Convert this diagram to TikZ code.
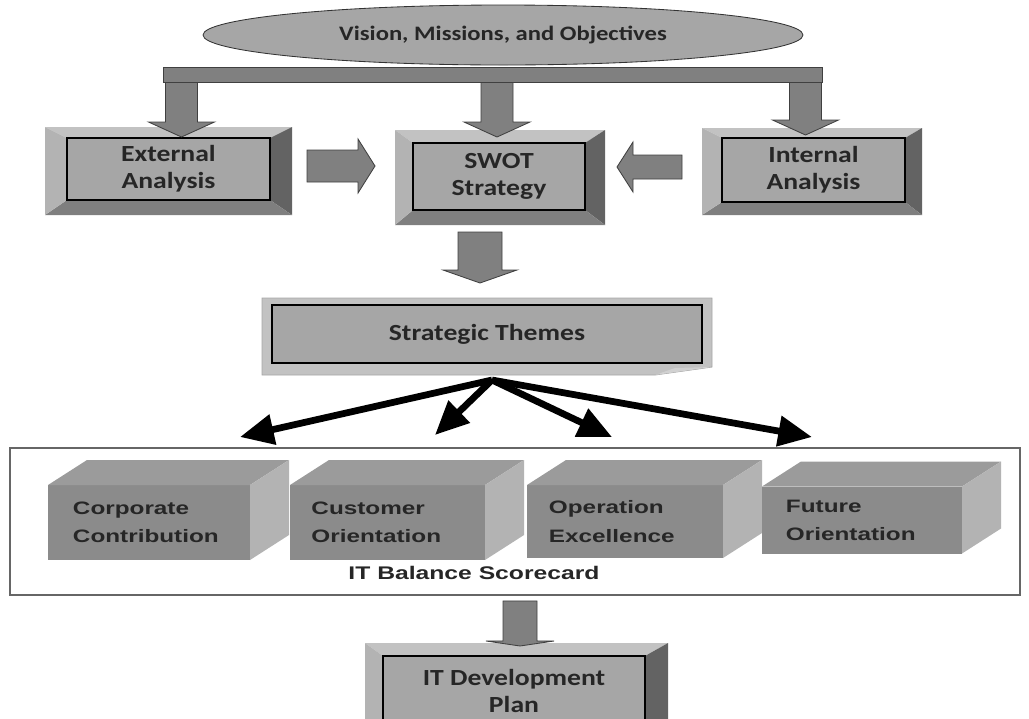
\documentclass[tikz,border=0pt]{standalone}
\usepackage{fontspec}
\setmainfont[FakeStretch=1.2]{Carlito}
\newfontfamily\arialfont[FakeStretch=1.35]{Liberation Sans}
\usetikzlibrary{calc,shapes.geometric,arrows.meta,backgrounds}

\newcommand\unitpx{0.025cm}
\definecolor{boxgray}{HTML}{A6A6A6}
\definecolor{bevtopc}{HTML}{C2C2C2}
\definecolor{bevleftc}{HTML}{B3B3B3}
\definecolor{bevrightc}{HTML}{636363}
\definecolor{bevbottomc}{HTML}{7F7F7F}
\definecolor{arrowgray}{HTML}{808080}
\definecolor{cubefrontc}{HTML}{8B8B8B}
\definecolor{cubetopc}{HTML}{9B9B9B}
\definecolor{cubesidec}{HTML}{B3B3B3}

\tikzset{
  innerbox/.style={draw=black, line width=0.8pt, fill=boxgray, align=center, text=black!85,
    font=\bfseries\fontsize{16.4pt}{19pt}\selectfont, inner sep=0pt, outer sep=0pt},
  vision/.style={ellipse, draw=black!80, line width=0.6pt, fill=boxgray, inner sep=0pt,
    font=\bfseries\fontsize{14.6pt}{17pt}\selectfont, text=black!85},
  barnode/.style={draw=black!75, line width=0.6pt, fill=arrowgray, inner sep=0pt},
  blockarrow/.style={fill=arrowgray, draw=black!75, line width=0.6pt, line join=miter},
  bevtop/.style={fill=bevtopc}, bevleft/.style={fill=bevleftc},
  bevright/.style={fill=bevrightc}, bevbottom/.style={fill=bevbottomc},
  forkarrow/.style={line width=4.8pt, -{Triangle[length=24pt, width=21pt]}},
  cardframe/.style={draw=black!60, line width=1.4pt, inner sep=0pt},
  cubefront/.style={fill=cubefrontc, text=black!85, align=left, inner sep=0pt, outer sep=0pt,
    text width=3.8cm, font=\arialfont\bfseries\fontsize{12.8pt}{20pt}\selectfont},
  cubetop/.style={fill=cubetopc}, cubeside/.style={fill=cubesidec},
}

% bevelled frame round a box node: name, left, top, right, bottom (px)
\newcommand\bevel[5]{%
  \path ($(#1.north west)+(-#2,-#3)$) coordinate (o1)
        ($(#1.north east)+(#4,-#3)$) coordinate (o2)
        ($(#1.south east)+(#4,#5)$) coordinate (o3)
        ($(#1.south west)+(-#2,#5)$) coordinate (o4);
  \fill[bevtop] (o1) -- (o2) -- (#1.north east) -- (#1.north west) -- cycle;
  \fill[bevright] (o2) -- (o3) -- (#1.south east) -- (#1.north east) -- cycle;
  \fill[bevbottom] (o3) -- (o4) -- (#1.south west) -- (#1.south east) -- cycle;
  \fill[bevleft] (o4) -- (o1) -- (#1.north west) -- (#1.south west) -- cycle;
  \draw[line width=0.8pt] (#1.north west) rectangle (#1.south east);
}

% block arrow: from, to, shaft half width, head half width, head length (px)
\newcommand\blockarr[5]{%
  \path ($(#2)!#5*\unitpx!(#1)$) coordinate (hb);
  \draw[blockarrow] ($(#1)!#3*\unitpx!90:(#2)$) -- ($(hb)!#3*\unitpx!-90:(#1)$)
    -- ($(hb)!#4*\unitpx!-90:(#1)$) -- (#2) -- ($(hb)!#4*\unitpx!90:(#1)$)
    -- ($(hb)!#3*\unitpx!90:(#1)$) -- ($(#1)!#3*\unitpx!-90:(#2)$) -- cycle;
}

% top and side faces of a cuboid: name, depth
\newcommand\cubefaces[2]{%
  \fill[cubetop] (#1.north west) -- ++(#2,-25) -- ($(#1.north east)+(#2,-25)$) -- (#1.north east) -- cycle;
  \fill[cubeside] (#1.north east) -- ++(#2,-25) -- ($(#1.south east)+(#2,-25)$) -- (#1.south east) -- cycle;
}

\begin{document}
\begin{tikzpicture}[x=0.025cm, y=-0.025cm]
\useasboundingbox (0,0) rectangle (1029,718);
\clip (0,0) rectangle (1029,718);

% Top: vision and the distribution bar
\node[vision, minimum width=600*\unitpx, minimum height=60*\unitpx] (vision) at (503,35) {Vision, Missions, and Objectives};
\node[barnode, minimum width=659*\unitpx, minimum height=15*\unitpx] (bar) at (492.5,74.5) {};

% Analysis boxes and SWOT
\node[innerbox, minimum width=203*\unitpx, minimum height=62*\unitpx] (ext) at (168.5,169) {External\\Analysis};
\node[innerbox, minimum width=172*\unitpx, minimum height=67*\unitpx] (swot) at (499,176.5) {SWOT\\Strategy};
\node[innerbox, minimum width=183*\unitpx, minimum height=64*\unitpx] (int) at (813.5,170) {Internal\\Analysis};
\bevel{ext}{22}{11}{22}{15}
\bevel{swot}{18}{13}{20}{15}
\bevel{int}{20}{10}{17}{13}

% Block arrows
\path ($(ext.north)+(13,-1)$) coordinate (t1) (bar.south -| t1) coordinate (s1);
\path ($(swot.north)+(-2,-6)$) coordinate (t2) (bar.south -| t2) coordinate (s2);
\path ($(int.north)+(-8,-3)$) coordinate (t3) (bar.south -| t3) coordinate (s3);
\foreach \k in {1,2,3} {\blockarr{s\k}{t\k}{16}{33}{15}}
\path ($(ext.east)+(37,-3)$) coordinate (s5) ++(68,0) coordinate (t5);
\blockarr{s5}{t5}{16}{27}{17}
\path ($(int.west)+(-40,-3)$) coordinate (s6) ++(-65,0) coordinate (t6);
\blockarr{s6}{t6}{12}{25}{16}
\path ($(swot.south)+(-19,22)$) coordinate (s7) ++(0,51) coordinate (t7);
\blockarr{s7}{t7}{22}{37}{13}

% Strategic themes
\node[innerbox, minimum width=430*\unitpx, minimum height=58*\unitpx] (themes) at (487,334) {Strategic Themes};
\begin{scope}[on background layer]
\fill[fill=bevtopc, draw=black!35, line width=0.6pt] ($(themes.north west)+(-10,-7)$) -- ($(themes.north east)+(10,-7)$)
  -- ($(themes.south east)+(10,4)$) -- ($(themes.south east)+(-47,12)$) -- ($(themes.south west)+(-10,12)$) -- cycle;
\end{scope}
\fill[black!18] ($(themes.south east)+(-47,12)$) -- ($(themes.south east)+(10,4)$) -- ($(themes.south east)+(-27,5)$) -- cycle;

% Fork of black arrows
\path ($(themes.south)+(5,17)$) coordinate (fork);
\coordinate (c1) at (240,437);
\coordinate (c2) at (435,435);
\coordinate (c3) at (612,437);
\coordinate (c4) at (812,437);
\foreach \tip in {c1,c2,c3,c4} \draw[forkarrow] (fork) -- (\tip);

% IT balance scorecard
\node[cardframe, minimum width=1010*\unitpx, minimum height=147*\unitpx] (card) at (515,521.5) {};
\foreach \nm/\cx/\cy/\w/\h/\txt in {corp/149/522.5/202/75/{Corporate\\Contribution},
    cust/387.5/522.5/195/75/{Customer\\Orientation},
    oper/625/521.5/196/73/{Operation\\Excellence},
    fut/862/520/200/67/{Future\\Orientation}} {
  \node[cubefront, minimum width=\w*\unitpx, minimum height=\h*\unitpx] (\nm) at (\cx,\cy) {\txt};
  \cubefaces{\nm}{39}
}
\node[font=\arialfont\bfseries\fontsize{13pt}{15pt}\selectfont, text=black!85] (cardlabel) at (474,573) {IT Balance Scorecard};

% IT development plan
\node[innerbox, minimum width=262*\unitpx, minimum height=70*\unitpx] (itdev) at (514,691) {IT Development\\Plan};
\bevel{itdev}{18}{13}{23}{14}
\path ($(card.south)+(5,5)$) coordinate (s8) ++(0,45) coordinate (t8);
\blockarr{s8}{t8}{17}{34}{5}
\end{tikzpicture}
\end{document}
